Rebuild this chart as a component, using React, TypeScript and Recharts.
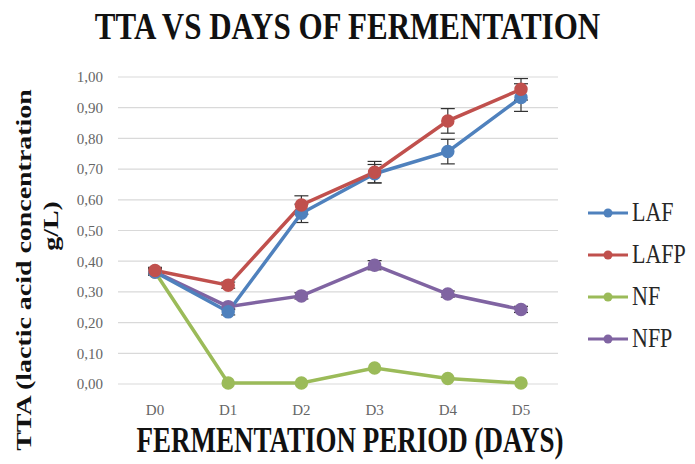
import React from 'react'
import { LineChart, Line, XAxis, YAxis, CartesianGrid, ErrorBar } from 'recharts'

const days = ['D0', 'D1', 'D2', 'D3', 'D4', 'D5']
const laf = [0.365, 0.235, 0.556, 0.685, 0.757, 0.933]
const lafErr = [0.01, 0.01, 0.03, 0.03, 0.04, 0.045]
const lafp = [0.37, 0.322, 0.583, 0.69, 0.857, 0.96]
const lafpErr = [0.01, 0.01, 0.03, 0.035, 0.04, 0.035]
const nf = [0.365, 0.003, 0.003, 0.052, 0.018, 0.003]
const nfp = [0.365, 0.252, 0.287, 0.387, 0.293, 0.243]
const nfpErr = [0.01, 0.01, 0.01, 0.015, 0.01, 0.01]
const yTicks = [0, 0.1, 0.2, 0.3, 0.4, 0.5, 0.6, 0.7, 0.8, 0.9, 1]

const series = [
  { key: 'LAF', color: '#4F81BD' },
  { key: 'LAFP', color: '#C0504D' },
  { key: 'NF', color: '#9BBB59' },
  { key: 'NFP', color: '#8064A2' },
]

const data = days.map((day, i) => ({
  day,
  LAF: laf[i],
  LAFerr: lafErr[i],
  LAFP: lafp[i],
  LAFPerr: lafpErr[i],
  NF: nf[i],
  NFP: nfp[i],
  NFPerr: nfpErr[i],
}))

const serif = 'Liberation Serif, serif'
const fmt = (v: number) => v.toFixed(2).replace('.', ',')

function LegendBox() {
  return (
    <div style={{ position: 'absolute', left: 586, top: 192, fontFamily: serif, fontSize: 22, color: '#262626' }}>
      {series.map((s) => (
        <div key={s.key} style={{ display: 'flex', alignItems: 'center', height: 42 }}>
          <svg width={44} height={14}>
            <line x1={2} y1={7} x2={42} y2={7} stroke={s.color} strokeWidth={3} />
            <circle cx={22} cy={7} r={4.5} fill={s.color} />
          </svg>
          <span style={{ marginLeft: 2, display: 'inline-block', transform: 'scaleY(1.2)' }}>{s.key}</span>
        </div>
      ))}
    </div>
  )
}

export default function App() {
  return (
    <div style={{ position: 'absolute', left: 0, top: 0, width: 695, height: 464, background: '#fff' }}>
      <div
        style={{
          position: 'absolute', left: 0, width: 695, top: 8, textAlign: 'center',
          fontFamily: serif, fontWeight: 'bold', fontSize: 31, color: '#111',
          transform: 'scaleY(1.25)',
        }}
      >
        TTA VS DAYS OF FERMENTATION
      </div>
      <LineChart width={695} height={464} data={data} margin={{ top: 77, right: 137, bottom: 0, left: 60 }}>
        <CartesianGrid horizontal vertical={false} stroke="#d9d9d9" strokeWidth={1.2} />
        <XAxis
          dataKey="day"
          axisLine={false}
          tickLine={false}
          tickSize={0}
          tickMargin={20}
          height={80}
          padding={{ left: 37, right: 37 }}
          tick={{ fill: '#666', fontFamily: serif, fontSize: 15 }}
        />
        <YAxis
          domain={[0, 1]}
          ticks={yTicks}
          tickFormatter={fmt}
          axisLine={false}
          tickLine={false}
          tickSize={0}
          tickMargin={15}
          width={58}
          tick={{ fill: '#666', fontFamily: serif, fontSize: 15 }}
          interval={0}
        />
        <Line dataKey="NF" stroke="#9BBB59" strokeWidth={3.5} dot={{ r: 5, fill: '#9BBB59', stroke: '#9BBB59' }} isAnimationActive={false} />
        <Line dataKey="NFP" stroke="#8064A2" strokeWidth={3.5} dot={{ r: 5, fill: '#8064A2', stroke: '#8064A2' }} isAnimationActive={false}>
          <ErrorBar dataKey="NFPerr" stroke="#333" strokeWidth={1.2} width={7} direction="y" />
        </Line>
        <Line dataKey="LAF" stroke="#4F81BD" strokeWidth={3.5} dot={{ r: 5, fill: '#4F81BD', stroke: '#4F81BD' }} isAnimationActive={false}>
          <ErrorBar dataKey="LAFerr" stroke="#333" strokeWidth={1.2} width={7} direction="y" />
        </Line>
        <Line dataKey="LAFP" stroke="#C0504D" strokeWidth={3.5} dot={{ r: 5, fill: '#C0504D', stroke: '#C0504D' }} isAnimationActive={false}>
          <ErrorBar dataKey="LAFPerr" stroke="#333" strokeWidth={1.2} width={7} direction="y" />
        </Line>
      </LineChart>
      <LegendBox />
      <svg width={695} height={464} style={{ position: 'absolute', left: 0, top: 0, pointerEvents: 'none' }}>
        <g fontFamily={serif} fontWeight="bold" fill="#111">
          <text transform="translate(24,270) rotate(-90) scale(1.27,1)" textAnchor="middle" dominantBaseline="central" fontSize={22}>
            TTA (lactic acid concentration
          </text>
          <text transform="translate(51,226) rotate(-90) scale(1.27,1)" textAnchor="middle" dominantBaseline="central" fontSize={22}>
            g/L)
          </text>
          <text transform="translate(350,440) scale(1,1.3)" textAnchor="middle" dominantBaseline="central" fontSize={27}>
            FERMENTATION  PERIOD (DAYS)
          </text>
        </g>
      </svg>
    </div>
  )
}
